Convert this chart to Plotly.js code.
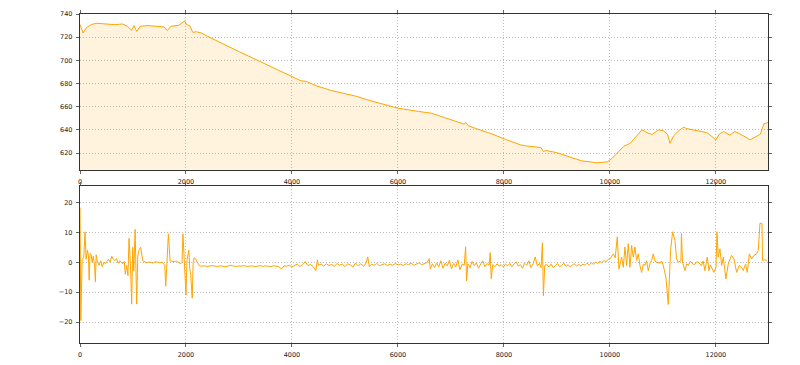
<!DOCTYPE html>
<html>
<head>
<meta charset="utf-8">
<script src="https://cdn.plot.ly/plotly-3.0.1.min.js"></script>
<style>html,body{margin:0;padding:0;background:#fff;}#chart{width:800px;height:365px;}</style>
</head>
<body>
<div id="chart"></div>
<script>
// Elevation profile (distance m, elevation m)
const elevX = [0,58,125,220,318,510,655,800,895,972,1020,1070,1136,1280,1473,1590,1647,1715,1860,1974,2013,2070,2128,2196,2292,2437,3000,3500,3997,4170,4267,4459,4748,5230,5422,6000,6385,6626,6963,7252,7281,7329,7541,7734,8023,8312,8408,8697,8745,8793,8986,9275,9467,9756,9949,10045,10161,10257,10382,10479,10604,10720,10797,10912,11008,11086,11134,11201,11297,11393,11441,11586,11827,11923,12000,12068,12145,12260,12357,12453,12646,12838,12906,12983];
const elevY = [731,723.6,728.5,731,732,731.4,730.8,731.4,729.4,726,730,725,729.4,730,729.6,728.8,725.6,729.4,730.2,734,730.8,730,724.2,724.7,723.6,720.1,707.6,696.6,685.6,682.4,681.9,678.1,674,668.9,666,658.8,656,654.5,649.4,645,646.5,643.6,640.1,637.3,632,627.2,626.3,624.9,621.4,622.3,620.6,616.3,613.4,611.7,612.5,615.7,621.4,625.8,628.6,633.8,640.1,637.3,636.2,640.1,639.3,636.4,628.6,635,639.3,642.4,641.3,639.9,637.8,634.4,631.5,636.7,638.7,635.5,638.7,636.7,631.5,636.4,645.3,646.5];

// Gradient signal (distance m, value)
const gradX = [
 0,15,40,70,96,115,140,160,173,190,210,230,250,275,290,305,330,360,390,420,450,480,510,540,570,600,630,660,690,720,750,780,810,835,
 855,880,905,925,950,975,995,1015,1040,1070,1090,1110,1145,1185,
 1220,1260,1300,1340,1380,1420,1460,1500,1540,1580,1600,1618,1640,1668,1700,1740,1780,1820,1860,1900,1925,1942,1970,2000,2020,2055,2070,2088,2118,2135,2155,2182,2210,2260,
 2300,2350,2400,2450,2500,2550,2600,2650,2700,2750,2800,2850,2900,2950,3000,3050,3100,3150,3200,3250,3300,3350,3400,3450,3500,3550,3600,3650,3700,3750,3800,3850,3900,3950,4000,
 4050,4100,4150,4200,4250,4300,4350,4400,4450,4480,4500,4550,4600,4650,4700,4750,4800,4850,4900,4950,5000,5050,5100,5150,5200,5250,5300,5350,5400,5430,5460,5500,5550,5600,5650,5700,5750,5800,5850,5900,5950,6000,6050,6100,6150,6200,6250,6300,6350,6400,6450,6500,6550,6590,
 6610,6650,6690,6730,6770,6810,6850,6890,6930,6970,7010,7050,7090,7130,7170,7210,7250,7277,7295,7320,7360,7400,7440,7480,7520,7560,7600,7640,7680,7720,7740,7760,7790,7830,7870,7910,7950,7990,8030,8070,8110,8150,8190,8230,8270,8310,8350,8390,8430,8470,8510,8550,8590,8630,8670,8700,8726,8745,8770,
 8810,8850,8890,8930,8970,9010,9050,9090,9130,9170,9210,9250,9290,9330,9370,9410,9450,9490,9530,9570,9610,9650,9690,9730,9770,9810,9850,9890,9930,9970,
 10000,10063,10100,10139,10170,10220,10252,10283,10315,10346,10378,10409,10441,10472,10504,10535,10567,10598,10630,10661,10690,10724,10755,10787,10818,10850,10881,10944,10975,11007,11057,11101,11145,11183,11227,11258,11290,11340,11350,11370,11416,11450,11479,11510,11542,11575,11605,11640,11667,11700,11730,11760,11793,11837,11869,11895,11919,11940,11963,12001,12020,12045,12076,12108,12139,12189,12233,12265,12296,12340,12365,12391,12441,12485,12516,12560,12592,12630,12674,12718,12768,12799,12831,12869,12881,12920,12957
];
const gradY = [
 18.3,-19.5,1,1.5,10.2,1,4,2,-6,3,2.5,0,2,-1,-6.5,2.5,0,-1,0.5,-1.5,0,-0.5,0.3,1,0,2,1,0.5,1.2,-0.3,0.5,0,-0.5,0.3,
 -4,-1,-4.5,8,0,-14,5,-3,11,-14,2,4,5,0.5,
 0.2,-0.2,0.1,0,-0.3,0.2,0,-0.2,0.1,-0.5,-1,-8,-1,9.5,0.5,0.3,0.2,0.4,0,-0.5,0,9.5,0,-11,1,4,-2,-4,-12,0,1.5,1.2,0,-1.2,
 -1.3,-1.2,-1.4,-1.3,-1.1,-1.3,-1.4,-1.2,-1.3,-1.5,-1.2,-1.0,-1.3,-1.4,-1.2,-1.3,-1.1,-1.4,-1.3,-1.2,-1.5,-1.3,-1.1,-1.4,-1.2,-1.3,-1.5,-1.2,-1.3,-1.4,-2.3,-1.2,-1.3,-1.0,-1.6,
 -1.2,-0.6,-1.4,-0.8,0.2,-1.1,-0.7,-1.5,-2.8,0.8,-1.0,-0.6,-1.3,-0.5,-1.1,-0.7,-1.4,-0.4,-1.0,-0.6,-1.5,-0.5,-0.9,-1.6,-0.3,-1.2,-0.5,-1.4,-0.2,1.8,-1.5,-0.7,-1.0,-0.4,-1.2,-0.8,-0.5,-1.1,-0.6,-1.0,-0.4,-0.9,-0.6,-1.1,-0.5,-0.8,-0.3,-1.0,-0.6,-0.2,-0.8,-0.4,-0.1,1.2,
 -2.2,-0.5,-1.8,-0.2,-1.5,0.5,-2.0,-0.3,-1.2,0.6,-2.2,-0.4,-1.6,0.8,-2.5,-0.6,-1.0,5.2,-6.2,-0.5,-1.8,0.3,-1.2,-0.2,-2.0,-0.6,0.5,-1.5,-0.4,-1.0,3.2,-5.5,-0.8,-1.5,-0.5,-1.3,-0.8,-1.6,-0.6,-1.2,-0.4,-1.5,-0.7,0.2,-1.3,-0.8,-2.0,-0.3,-1.0,0.5,-1.8,-0.5,1.8,-1.2,-0.4,-1.8,6.5,-11.2,-1.0,
 -0.8,-1.6,-0.6,-1.8,-1.0,-0.4,-1.5,-1.1,-0.3,-1.4,-0.8,-1.6,-0.9,-0.5,-1.3,-0.7,-1.2,-0.6,-1.0,-0.3,-0.9,-0.2,-0.7,0.1,-0.4,0.3,-0.1,0.6,0.2,1.0,
 1.1,2.8,1.5,8.5,-2.3,1.7,-1.7,5.1,-1.1,6.2,-1.7,5.6,1.7,5.1,0.6,2.8,-1.1,-3.4,-0.6,-1.1,0.5,-2.8,-0.5,0.6,2.8,0.4,0,-0.3,0.4,-1.1,-5.1,-14.1,4,10.2,7.3,1.1,0,0.5,9.6,0,-2.8,-0.5,-1.1,0.3,0,-0.8,-0.6,0.2,0,-0.7,-1.1,0.4,-2.8,1.7,-2.8,-0.9,-1.7,-2.5,-3.4,-1.7,10.2,1.7,4.5,-1.1,1.7,-5.6,-0.6,1.0,2.3,1.1,-1.5,-3.4,-1.1,-1.7,-2.8,-0.6,-3.4,2.8,1.1,2.3,2.8,4,13,13,0.6,0.8,0.6
];

const xRange = [0, 12983];
const elevRange = [605.5, 740];
const gradRange = [-27, 25.5];
const xTicks = [0, 2000, 4000, 6000, 8000, 10000, 12000];
const elevTicks = [620, 640, 660, 680, 700, 720, 740];
const gradTicks = [-20, -10, 0, 10, 20];

const lineColor = '#FFA500';
const tickFont = {family: 'DejaVu Sans, sans-serif', size: 6.5, color: '#222'};

const axBase = {
  showgrid: true, gridcolor: '#bdbdbd', griddash: '1px,2px', gridwidth: 1,
  showline: true, linecolor: '#333', linewidth: 1.2, mirror: 'ticks',
  ticks: 'outside', ticklen: 3, tickcolor: '#666', tickwidth: 1,
  zeroline: false, tickfont: tickFont, tickformat: 'd', ticklabelstandoff: 2
};

const traces = [
  {x: elevX, y: elevY, type: 'scatter', mode: 'lines', fill: 'tozeroy',
   fillcolor: 'rgba(255,165,0,0.13)', line: {color: lineColor, width: 1}, xaxis: 'x', yaxis: 'y', hoverinfo: 'skip'},
  {x: gradX, y: gradY, type: 'scatter', mode: 'lines',
   line: {color: lineColor, width: 1}, xaxis: 'x2', yaxis: 'y2', hoverinfo: 'skip'}
];

const layout = {
  width: 800, height: 365,
  margin: {l: 80, r: 32, t: 14, b: 22},
  paper_bgcolor: '#fff', plot_bgcolor: '#fff',
  showlegend: false,
  xaxis: Object.assign({}, axBase, {range: xRange, anchor: 'y', tickvals: xTicks}),
  yaxis: Object.assign({}, axBase, {range: elevRange, domain: [0.5258, 1], anchor: 'x', tickvals: elevTicks}),
  xaxis2: Object.assign({}, axBase, {range: xRange, anchor: 'y2', tickvals: xTicks}),
  yaxis2: Object.assign({}, axBase, {range: gradRange, domain: [0, 0.4772], anchor: 'x2', tickvals: gradTicks})
};

Plotly.newPlot('chart', traces, layout, {staticPlot: true, displayModeBar: false});
</script>
</body>
</html>
